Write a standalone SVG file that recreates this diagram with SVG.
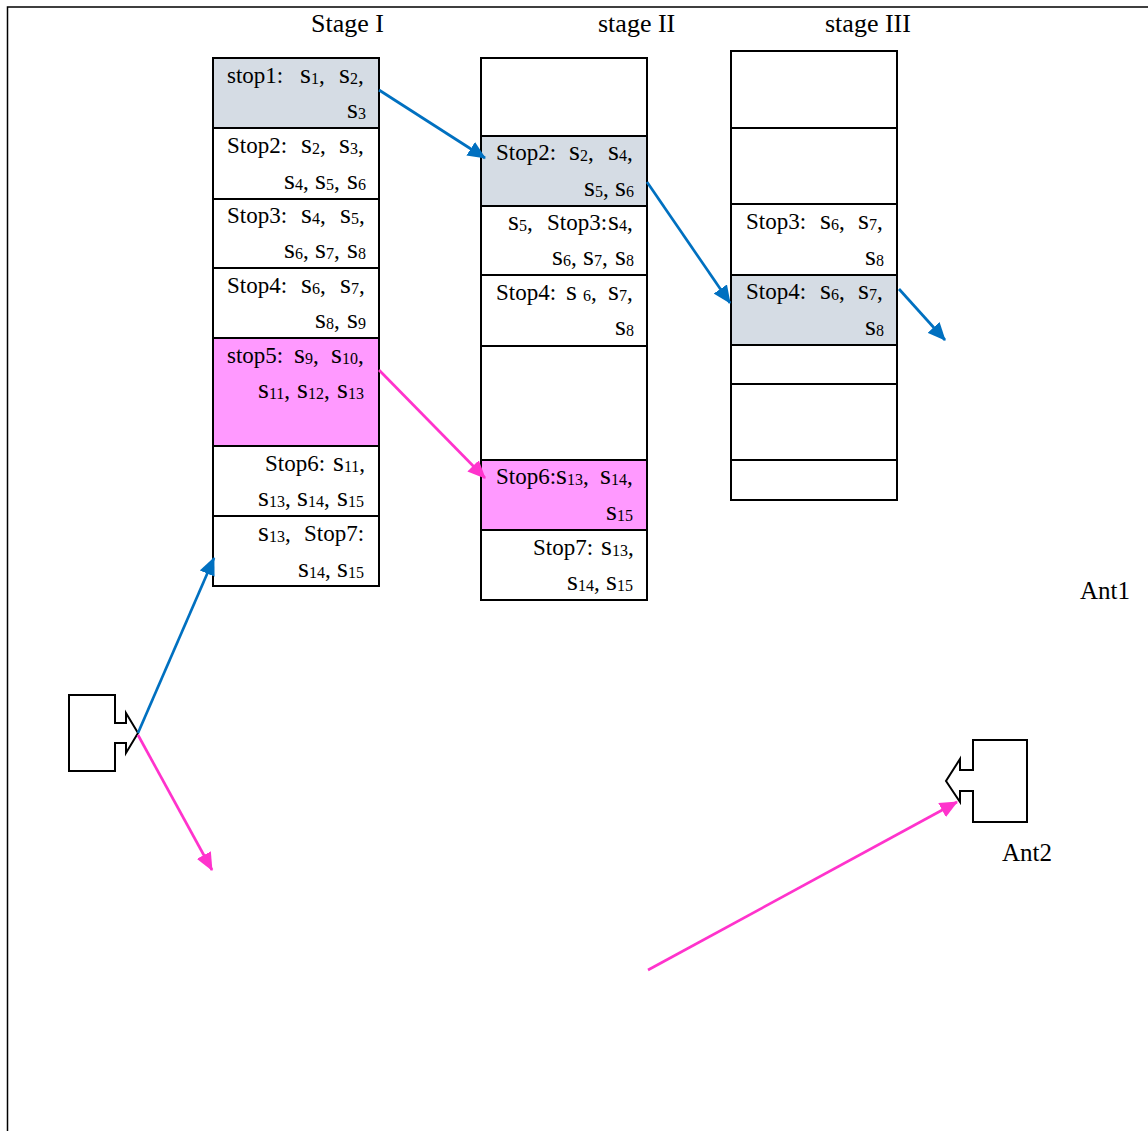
<svg xmlns="http://www.w3.org/2000/svg" width="1148" height="1131" viewBox="0 0 1148 1131">
<style>
text{font-family:"Liberation Serif","Times New Roman",serif;font-size:23px;fill:#000}
.h{font-size:26px}
.a{font-size:25px}
.s{font-size:28px}
.n{font-size:16px;baseline-shift:-1px}
.r{fill:#fff;stroke:#000;stroke-width:2}
.g{fill:#d5dce4}
.p{fill:#ff99ff}
.ant{fill:#fff;stroke:#000;stroke-width:2}
.b{stroke:#0070c0;stroke-width:2.7;fill:none}
.m{stroke:#ff33cc;stroke-width:2.7;fill:none}
</style>
<defs>
<marker id="ab" markerUnits="userSpaceOnUse" viewBox="0 0 18 16" markerWidth="18" markerHeight="16" refX="17" refY="8" orient="auto"><path d="M0 0L18 8L0 16Z" fill="#0070c0"/></marker>
<marker id="am" markerUnits="userSpaceOnUse" viewBox="0 0 18 16" markerWidth="18" markerHeight="16" refX="17" refY="8" orient="auto"><path d="M0 0L18 8L0 16Z" fill="#ff33cc"/></marker>
</defs>
<g id="frame"><path d="M7.5 1131V7H1148" fill="none" stroke="#000" stroke-width="1.5"/></g>
<g id="headers">
<text class="h" x="311" y="32">Stage I</text>
<text class="h" x="598" y="32">stage II</text>
<text class="h" x="825" y="32">stage III</text>
</g>
<g id="stage1">
<g id="s1-stop1"><rect class="r g" x="213" y="58" width="166" height="70"/>
<text x="227" y="83">stop1:<tspan class="s" x="300">s</tspan><tspan class="n">1</tspan>,<tspan class="s" x="339">s</tspan><tspan class="n">2</tspan>,</text>
<text y="117.500"><tspan class="s" x="347">s</tspan><tspan class="n">3</tspan></text></g>
<g id="s1-stop2"><rect class="r" x="213" y="128" width="166" height="71"/>
<text x="227" y="153">Stop2:<tspan class="s" x="301">s</tspan><tspan class="n">2</tspan>,<tspan class="s" x="339">s</tspan><tspan class="n">3</tspan>,</text>
<text y="188.500"><tspan class="s" x="284">s</tspan><tspan class="n">4</tspan>,<tspan class="s" x="315">s</tspan><tspan class="n">5</tspan>,<tspan class="s" x="347">s</tspan><tspan class="n">6</tspan></text></g>
<g id="s1-stop3"><rect class="r" x="213" y="199" width="166" height="69"/>
<text x="227" y="223">Stop3:<tspan class="s" x="301">s</tspan><tspan class="n">4</tspan>,<tspan class="s" x="340">s</tspan><tspan class="n">5</tspan>,</text>
<text y="258"><tspan class="s" x="284">s</tspan><tspan class="n">6</tspan>,<tspan class="s" x="315">s</tspan><tspan class="n">7</tspan>,<tspan class="s" x="347">s</tspan><tspan class="n">8</tspan></text></g>
<g id="s1-stop4"><rect class="r" x="213" y="268" width="166" height="70"/>
<text x="227" y="293">Stop4:<tspan class="s" x="301">s</tspan><tspan class="n">6</tspan>,<tspan class="s" x="340">s</tspan><tspan class="n">7</tspan>,</text>
<text y="328"><tspan class="s" x="315">s</tspan><tspan class="n">8</tspan>,<tspan class="s" x="347">s</tspan><tspan class="n">9</tspan></text></g>
<g id="s1-stop5"><rect class="r p" x="213" y="338" width="166" height="108"/>
<text x="227" y="363">stop5:<tspan class="s" x="294">s</tspan><tspan class="n">9</tspan>,<tspan class="s" x="331">s</tspan><tspan class="n">10</tspan>,</text>
<text y="398"><tspan class="s" x="258">s</tspan><tspan class="n">11</tspan>,<tspan class="s" x="297">s</tspan><tspan class="n">12</tspan>,<tspan class="s" x="337">s</tspan><tspan class="n">13</tspan></text></g>
<g id="s1-stop6"><rect class="r" x="213" y="446" width="166" height="70"/>
<text x="265" y="471">Stop6:<tspan class="s" x="333">s</tspan><tspan class="n">11</tspan>,</text>
<text y="506"><tspan class="s" x="258">s</tspan><tspan class="n">13</tspan>,<tspan class="s" x="297">s</tspan><tspan class="n">14</tspan>,<tspan class="s" x="337">s</tspan><tspan class="n">15</tspan></text></g>
<g id="s1-stop7"><rect class="r" x="213" y="516" width="166" height="70"/>
<text y="541"><tspan class="s" x="258">s</tspan><tspan class="n">13</tspan>,<tspan x="304">Stop7:</tspan></text>
<text y="577"><tspan class="s" x="298">s</tspan><tspan class="n">14</tspan>,<tspan class="s" x="337">s</tspan><tspan class="n">15</tspan></text></g>
</g>
<g id="stage2">
<rect id="s2-empty1" class="r" x="481" y="58" width="166" height="78"/>
<g id="s2-stop2"><rect class="r g" x="481" y="136" width="166" height="70"/>
<text x="496" y="160">Stop2:<tspan class="s" x="569">s</tspan><tspan class="n">2</tspan>,<tspan class="s" x="608">s</tspan><tspan class="n">4</tspan>,</text>
<text y="196"><tspan class="s" x="584">s</tspan><tspan class="n">5</tspan>,<tspan class="s" x="615">s</tspan><tspan class="n">6</tspan></text></g>
<g id="s2-stop3"><rect class="r" x="481" y="206" width="166" height="69"/>
<text y="230"><tspan class="s" x="508">s</tspan><tspan class="n">5</tspan>,<tspan x="547">Stop3:</tspan><tspan class="s" x="608">s</tspan><tspan class="n">4</tspan>,</text>
<text y="265"><tspan class="s" x="552">s</tspan><tspan class="n">6</tspan>,<tspan class="s" x="583">s</tspan><tspan class="n">7</tspan>,<tspan class="s" x="615">s</tspan><tspan class="n">8</tspan></text></g>
<g id="s2-stop4"><rect class="r" x="481" y="275" width="166" height="71"/>
<text x="496" y="300">Stop4:<tspan class="s" x="566">s</tspan><tspan class="n" x="583">6</tspan>,<tspan class="s" x="608">s</tspan><tspan class="n">7</tspan>,</text>
<text y="335"><tspan class="s" x="615">s</tspan><tspan class="n">8</tspan></text></g>
<rect id="s2-empty2" class="r" x="481" y="346" width="166" height="114"/>
<g id="s2-stop6"><rect class="r p" x="481" y="460" width="166" height="70"/>
<text x="496" y="484">Stop6:<tspan class="s" x="556">s</tspan><tspan class="n">13</tspan>,<tspan class="s" x="600">s</tspan><tspan class="n">14</tspan>,</text>
<text y="520"><tspan class="s" x="606">s</tspan><tspan class="n">15</tspan></text></g>
<g id="s2-stop7"><rect class="r" x="481" y="530" width="166" height="70"/>
<text x="533" y="555">Stop7:<tspan class="s" x="601">s</tspan><tspan class="n">13</tspan>,</text>
<text y="590"><tspan class="s" x="567">s</tspan><tspan class="n">14</tspan>,<tspan class="s" x="606">s</tspan><tspan class="n">15</tspan></text></g>
</g>
<g id="stage3">
<rect id="s3-empty1" class="r" x="731" y="51" width="166" height="77"/>
<rect id="s3-empty2" class="r" x="731" y="128" width="166" height="76"/>
<g id="s3-stop3"><rect class="r" x="731" y="204" width="166" height="71"/>
<text x="746" y="229">Stop3:<tspan class="s" x="820">s</tspan><tspan class="n">6</tspan>,<tspan class="s" x="858">s</tspan><tspan class="n">7</tspan>,</text>
<text y="265"><tspan class="s" x="865">s</tspan><tspan class="n">8</tspan></text></g>
<g id="s3-stop4"><rect class="r g" x="731" y="275" width="166" height="70"/>
<text x="746" y="299">Stop4:<tspan class="s" x="820">s</tspan><tspan class="n">6</tspan>,<tspan class="s" x="858">s</tspan><tspan class="n">7</tspan>,</text>
<text y="335"><tspan class="s" x="865">s</tspan><tspan class="n">8</tspan></text></g>
<rect id="s3-empty3" class="r" x="731" y="345" width="166" height="39"/>
<rect id="s3-empty4" class="r" x="731" y="384" width="166" height="76"/>
<rect id="s3-empty5" class="r" x="731" y="460" width="166" height="40"/>
</g>
<g id="ant1"><path class="ant" d="M69 695H115V723H126V713L138 733L126 753V743H115V771H69Z"/><text class="a" x="1080" y="599">Ant1</text></g>
<g id="ant2"><path class="ant" d="M1027 740H973V770H960V759L946 781L960 802V791H973V822H1027Z"/><text class="a" x="1002" y="861">Ant2</text></g>
<g id="connectors">
<path class="b" marker-end="url(#ab)" d="M138 733L214 558"/>
<path class="b" marker-end="url(#ab)" d="M379 90L485 158"/>
<path class="b" marker-end="url(#ab)" d="M647 182L730 303"/>
<path class="b" marker-end="url(#ab)" d="M899 289L945 340"/>
<path class="m" marker-end="url(#am)" d="M138 735L212 870"/>
<path class="m" marker-end="url(#am)" d="M379 370L485 478"/>
<path class="m" marker-end="url(#am)" d="M648 970L957 802"/>
</g>
</svg>
